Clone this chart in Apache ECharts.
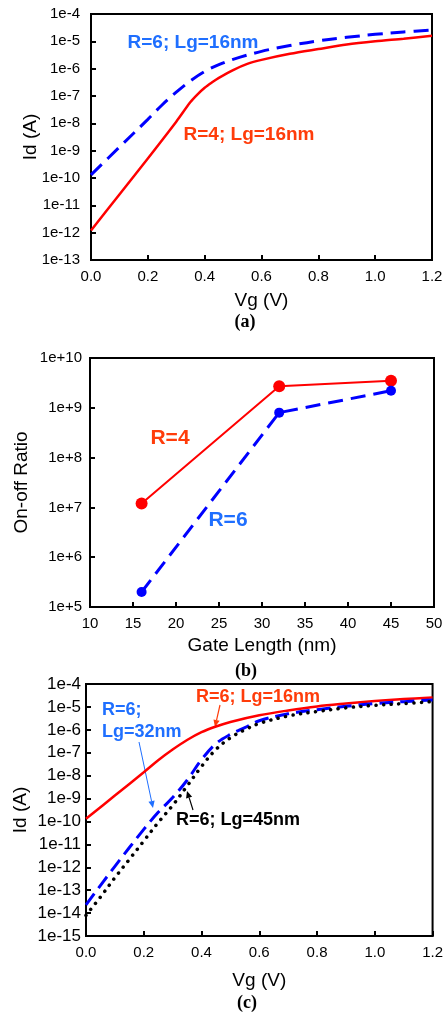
<!DOCTYPE html>
<html>
<head>
<meta charset="utf-8">
<script src="https://cdn.jsdelivr.net/npm/echarts@6/dist/echarts.min.js"></script>
<style>
html,body{margin:0;padding:0;background:#fff;}
#chart{width:446px;height:1015px;}
</style>
</head>
<body>
<div id="chart"></div>
<script>
// ---------- Data ----------
// Panel (a): Id vs Vg
const vgR4 = [0, 0.1, 0.2, 0.3, 0.35, 0.375, 0.4, 0.425, 0.45, 0.5, 0.55, 0.6, 0.7, 0.8, 0.9, 1.0, 1.1, 1.2];
const idR4L16 = [1.2e-12, 2.5e-11, 5.2e-10, 1.15e-8, 6e-8, 1.15e-7, 2e-7, 3.1e-7, 4.6e-7, 8.9e-7, 1.5e-6, 2.1e-6, 3.5e-6, 5.2e-6, 7.6e-6, 1e-5, 1.25e-5, 1.6e-5];
const vgR6 = [0, 0.1, 0.2, 0.25, 0.3, 0.35, 0.4, 0.45, 0.5, 0.6, 0.7, 0.8, 0.9, 1.0, 1.1, 1.2];
const idR6L16 = [1.3e-10, 1.35e-9, 1.4e-8, 4.7e-8, 1.38e-7, 3.6e-7, 7.9e-7, 1.4e-6, 2.2e-6, 4.3e-6, 7e-6, 1.05e-5, 1.4e-5, 1.8e-5, 2.2e-5, 2.6e-5];

// Panel (b): On-off ratio vs gate length
const gateLength = [16, 32, 45];
const ratioR4 = [1.2e7, 2.7e9, 3.5e9];
const ratioR6 = [2e5, 8e8, 2.2e9];

// Panel (c): Id vs Vg, R=6
const vgC32 = [0, 0.1, 0.2, 0.25, 0.3, 0.35, 0.4, 0.45, 0.5, 0.55, 0.6, 0.7, 0.8, 0.9, 1.0, 1.1, 1.2];
const idR6L32 = [2.3e-14, 1.1e-12, 4.5e-11, 2.5e-10, 1.1e-9, 6.3e-9, 5e-8, 2.5e-7, 6.3e-7, 1.25e-6, 2.5e-6, 5e-6, 7.6e-6, 1.07e-5, 1.4e-5, 1.7e-5, 2e-5];
const vgC45 = [0, 0.05, 0.1, 0.15, 0.2, 0.25, 0.3, 0.35, 0.4, 0.45, 0.5, 0.55, 0.6, 0.7, 0.8, 0.9, 1.0, 1.1, 1.2];
const idR6L45 = [8e-15, 5e-14, 3.5e-13, 2.2e-12, 1.4e-11, 9e-11, 5e-10, 3.5e-9, 2.5e-8, 1.4e-7, 4.5e-7, 1e-6, 1.9e-6, 4e-6, 6.3e-6, 9.1e-6, 1.17e-5, 1.4e-5, 1.7e-5];

// Tick labels
const vgTicks = ['0.0', '0.2', '0.4', '0.6', '0.8', '1.0', '1.2'];
const lgTicks = ['10', '15', '20', '25', '30', '35', '40', '45', '50'];

// ---------- Helpers ----------
const zip = (xs, ys) => xs.map((x, i) => [x, ys[i]]);
const SANS = 'Liberation Sans, Arial, sans-serif';
const SERIF = 'Liberation Serif, Times New Roman, serif';
const RED = '#ff0000', BLUE = '#0000ff';
const RED_T = '#ff3c0a', BLUE_T = '#1f6fff';

const expLabel = (plus) => (v) => {
  const e = Math.round(Math.log10(v));
  return '1e' + (e >= 0 && plus ? '+' : '') + e;
};

function xAxisCfg(grid, min, max, interval, labels, name, nameGap) {
  return {
    gridIndex: grid, type: 'value', min, max, interval,
    name, nameLocation: 'middle', nameGap, nameMoveOverlap: false,
    nameTextStyle: {fontFamily: SANS, fontSize: 19, color: '#000'},
    axisLine: {show: true, onZero: false, lineStyle: {color: '#000', width: 2}},
    axisTick: {show: true, inside: true, length: 5, lineStyle: {color: '#000', width: 2}},
    axisLabel: {fontFamily: SANS, fontSize: 15, color: '#000', margin: 9,
      formatter: (v) => labels[Math.round((v - min) / interval)]},
    splitLine: {show: false}
  };
}
function yAxisCfg(grid, min, max, plus, name, nameGap, fontSize, margin) {
  return {
    gridIndex: grid, type: 'log', logBase: 10, min, max, interval: 1,
    name, nameLocation: 'middle', nameGap, nameMoveOverlap: false,
    nameTextStyle: {fontFamily: SANS, fontSize: 19, color: '#000'},
    axisLine: {show: true, lineStyle: {color: '#000', width: 2}},
    axisTick: {show: true, inside: true, length: 5, lineStyle: {color: '#000', width: 2}},
    minorTick: {show: false},
    axisLabel: {fontFamily: SANS, fontSize, color: '#000', margin, formatter: expLabel(plus)},
    splitLine: {show: false}
  };
}

function arrow(x1, y1, x2, y2, color, w, head) {
  const ang = Math.atan2(y2 - y1, x2 - x1);
  const hl = head, hw = head * 0.45;
  const bx = x2 - hl * Math.cos(ang), by = y2 - hl * Math.sin(ang);
  const px = -Math.sin(ang) * hw, py = Math.cos(ang) * hw;
  return [
    {type: 'line', shape: {x1, y1, x2: bx, y2: by}, style: {stroke: color, lineWidth: w}},
    {type: 'polygon', shape: {points: [[x2, y2], [bx + px, by + py], [bx - px, by - py]]}, style: {fill: color}}
  ];
}
function txt(x, y, text, color, size, opts) {
  return {type: 'text', x, y, style: Object.assign({
    text, fill: color, font: 'bold ' + size + 'px ' + SANS,
    textAlign: 'center', textVerticalAlign: 'middle'}, opts || {})};
}

const gridStyle = {show: true, borderColor: '#000', borderWidth: 2, backgroundColor: 'transparent'};

const option = {
  backgroundColor: '#fff',
  animation: false,
  grid: [
    Object.assign({left: 91, top: 14, width: 341, height: 246}, gridStyle),
    Object.assign({left: 90, top: 358, width: 344, height: 249}, gridStyle),
    Object.assign({left: 86, top: 684, width: 350, height: 252}, gridStyle)
  ],
  xAxis: [
    xAxisCfg(0, 0, 1.2, 0.2, vgTicks, 'Vg (V)', 31),
    xAxisCfg(1, 10, 50, 5, lgTicks, 'Gate Length (nm)', 29),
    xAxisCfg(2, 0, 1.2, 0.2, vgTicks, 'Vg (V)', 35)
  ],
  yAxis: [
    yAxisCfg(0, 1e-13, 1e-4, false, 'Id (A)', 51, 15, 11),
    yAxisCfg(1, 1e5, 1e10, true, 'On-off Ratio', 59, 15, 8),
    yAxisCfg(2, 1e-15, 1e-4, false, 'Id (A)', 56, 17, 5)
  ],
  series: [
    {type: 'line', xAxisIndex: 0, yAxisIndex: 0, data: zip(vgR4, idR4L16), smooth: 0.3, showSymbol: false,
      lineStyle: {color: RED, width: 2.5}},
    {type: 'line', xAxisIndex: 0, yAxisIndex: 0, data: zip(vgR6, idR6L16), smooth: 0.35, showSymbol: false,
      lineStyle: {color: BLUE, width: 3, type: [15, 8]}},
    {type: 'line', xAxisIndex: 1, yAxisIndex: 1, data: zip(gateLength, ratioR4), symbol: 'circle', symbolSize: 12,
      itemStyle: {color: RED}, lineStyle: {color: RED, width: 2}},
    {type: 'line', xAxisIndex: 1, yAxisIndex: 1, data: zip(gateLength, ratioR6), symbol: 'circle', symbolSize: 10,
      itemStyle: {color: BLUE}, lineStyle: {color: BLUE, width: 3, type: [15, 8]}},
    {type: 'line', xAxisIndex: 2, yAxisIndex: 2, data: zip(vgR6, idR6L16), smooth: 0.35, showSymbol: false,
      lineStyle: {color: RED, width: 2.5}},
    {type: 'line', xAxisIndex: 2, yAxisIndex: 2, data: zip(vgC32, idR6L32), smooth: 0.35, showSymbol: false,
      lineStyle: {color: BLUE, width: 3, type: [14, 7]}},
    {type: 'line', xAxisIndex: 2, yAxisIndex: 2, data: zip(vgC45, idR6L45), smooth: 0.35, showSymbol: false,
      lineStyle: {color: '#000', width: 3.5, type: [0.1, 7.5], cap: 'round'}}
  ],
  graphic: [
    // panel captions
    txt(245, 322, '(a)', '#000', 18, {font: 'bold 18px ' + SERIF}),
    txt(246, 671, '(b)', '#000', 18, {font: 'bold 18px ' + SERIF}),
    txt(247, 1003, '(c)', '#000', 18, {font: 'bold 18px ' + SERIF}),
    // panel (a) labels
    txt(193, 43, 'R=6; Lg=16nm', BLUE_T, 19),
    txt(249, 135, 'R=4; Lg=16nm', RED_T, 19),
    // panel (b) labels
    txt(170, 438, 'R=4', RED_T, 21),
    txt(228, 520, 'R=6', BLUE_T, 21),
    // panel (c) labels
    txt(258, 697, 'R=6; Lg=16nm', RED_T, 18),
    txt(102, 710, 'R=6;', BLUE_T, 18, {textAlign: 'left'}),
    txt(102, 732, 'Lg=32nm', BLUE_T, 18, {textAlign: 'left'}),
    txt(238, 820, 'R=6; Lg=45nm', '#000', 18),
    ...arrow(220, 705, 215, 727, RED_T, 1.2, 7),
    ...arrow(139, 742, 153, 808, BLUE_T, 1, 7),
    ...arrow(193, 810, 187, 791, '#000', 1.2, 7)
  ]
};

const chart = echarts.init(document.getElementById('chart'), null, {renderer: 'canvas'});
chart.setOption(option);
</script>
</body>
</html>
